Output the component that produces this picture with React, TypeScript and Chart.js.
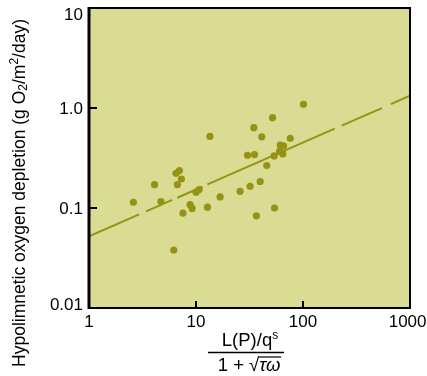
import React, { useEffect, useRef } from "react";
import { Chart, registerables } from "chart.js";

Chart.register(...registerables);

// Observed lakes: areal phosphorus load index vs hypolimnetic oxygen depletion
const loadX = [2.6, 4.1, 4.7, 6.5, 7.0, 6.7, 7.3, 6.2, 7.55, 8.8, 9.2, 10.0, 10.7, 12.8, 13.5, 16.8, 25.8, 30.3, 32, 34.7, 35.2, 36.7, 39.8, 41.2, 45.9, 51.9, 53.8, 54.2, 60.4, 61.3, 65.8, 64.8, 76, 101];
const depletionY = [0.114, 0.171, 0.116, 0.222, 0.237, 0.171, 0.195, 0.038, 0.089, 0.108, 0.099, 0.144, 0.153, 0.102, 0.52, 0.129, 0.147, 0.337, 0.165, 0.635, 0.342, 0.0836, 0.184, 0.515, 0.266, 0.8, 0.332, 0.1, 0.368, 0.425, 0.418, 0.347, 0.497, 1.09];

// Regression line, drawn as broken segments (start / end of each piece)
const fitStartX = [1, 3.42, 6.68, 12.8, 230, 662];
const fitEndX = [2.94, 6.0, 11.5, 198, 546, 1000];
const fitStartY = [0.052, 0.0926, 0.1267, 0.172, 0.666, 1.093];
const fitEndY = [0.0863, 0.1205, 0.163, 0.621, 0.998, 1.33];

const xTicks = [1, 10, 100, 1000];
const xTickLabels = ["1", "10", "100", "1000"];
const yTicks = [0.01, 0.1, 1, 10];
const yTickLabels = ["0.01", "0.1", "1.0", "10"];

const OLIVE = "#969214";
const BG = "#dadc94";
const FONT = "'Liberation Sans', Arial, Helvetica, sans-serif";
const TICK_FONT = `17px ${FONT}`;

type Run = { text: string; font: string; dy?: number };

function drawRuns(ctx: CanvasRenderingContext2D, runs: Run[], cx: number, cy: number) {
  let total = 0;
  const widths = runs.map((r) => {
    ctx.font = r.font;
    const w = ctx.measureText(r.text).width;
    total += w;
    return w;
  });
  let x = cx - total / 2;
  const positions: number[] = [];
  runs.forEach((r, i) => {
    ctx.font = r.font;
    ctx.fillText(r.text, x, cy + (r.dy || 0));
    positions.push(x);
    x += widths[i];
  });
  return { positions, widths, total };
}

const decorPlugin = {
  id: "decor",
  beforeDraw(chart: any) {
    const { ctx, chartArea } = chart;
    ctx.save();
    ctx.fillStyle = BG;
    ctx.fillRect(chartArea.left, chartArea.top, chartArea.right - chartArea.left, chartArea.bottom - chartArea.top);
    ctx.restore();
  },
  afterDraw(chart: any) {
    const { ctx, chartArea, scales, width } = chart;
    const { left, right, top, bottom } = chartArea;
    ctx.save();
    ctx.strokeStyle = "#000";
    // frame
    ctx.lineWidth = 2;
    ctx.strokeRect(left, top, right - left, bottom - top);
    ctx.lineWidth = 3;
    ctx.beginPath();
    ctx.moveTo(left, top - 1);
    ctx.lineTo(left, bottom + 1);
    ctx.stroke();
    // inward tick marks
    ctx.lineWidth = 2;
    ctx.beginPath();
    [10, 100].forEach((v) => {
      const px = scales.x.getPixelForValue(v);
      ctx.moveTo(px, bottom);
      ctx.lineTo(px, bottom - 7);
    });
    [0.1, 1].forEach((v) => {
      const py = scales.y.getPixelForValue(v);
      ctx.moveTo(left, py);
      ctx.lineTo(left + 8, py);
    });
    ctx.stroke();

    ctx.fillStyle = "#000";
    ctx.textBaseline = "middle";

    // tick labels (positioned from the scales)
    ctx.font = TICK_FONT;
    ctx.textAlign = "right";
    yTicks.forEach((v, i) => {
      let py = scales.y.getPixelForValue(v);
      py = Math.min(Math.max(py, top + 6), bottom - 4);
      ctx.fillText(yTickLabels[i], left - 6, py + 1);
    });
    ctx.textAlign = "center";
    xTicks.forEach((v, i) => {
      let px = scales.x.getPixelForValue(v);
      const w = ctx.measureText(xTickLabels[i]).width;
      px = Math.min(px, width - w / 2 - 0.5);
      ctx.fillText(xTickLabels[i], px, bottom + 14);
    });

    ctx.textAlign = "left";
    // y-axis title (rotated)
    ctx.save();
    ctx.translate(20, 193);
    ctx.rotate(-Math.PI / 2);
    const big = `17.5px ${FONT}`;
    const small = `12px ${FONT}`;
    drawRuns(ctx, [
      { text: "Hypolimnetic oxygen depletion (g O", font: big },
      { text: "2", font: small, dy: 4 },
      { text: "/m", font: big },
      { text: "2", font: small, dy: -5 },
      { text: "/day)", font: big },
    ], 0, 0);
    ctx.restore();

    // x-axis title as a fraction
    const xf = `18.5px ${FONT}`;
    const xs = `12px ${FONT}`;
    const cx = 247;
    drawRuns(ctx, [
      { text: "L(P)/q", font: xf },
      { text: "s", font: xs, dy: -5 },
    ], cx + 3, 341);
    ctx.lineWidth = 1.5;
    ctx.beginPath();
    ctx.moveTo(208, 352.5);
    ctx.lineTo(284, 352.5);
    ctx.stroke();
    const den = drawRuns(ctx, [
      { text: "1 + ", font: xf },
      { text: "\u221A", font: xf },
      { text: "\u03C4\u03C9", font: `italic 18.5px ${FONT}` },
    ], cx + 2, 366);
    // overline of the square root
    ctx.lineWidth = 1.2;
    ctx.beginPath();
    ctx.moveTo(den.positions[2] - 1, 357);
    ctx.lineTo(den.positions[2] + den.widths[2] + 1, 357);
    ctx.stroke();
    ctx.restore();
  },
};

export default function App() {
  const ref = useRef<HTMLCanvasElement | null>(null);
  useEffect(() => {
    if (!ref.current) return;
    const pointData = loadX.map((x, i) => ({ x, y: depletionY[i] }));
    const lineSets = fitStartX.map((sx, i) => ({
      type: "line" as const,
      data: [
        { x: sx, y: fitStartY[i] },
        { x: fitEndX[i], y: fitEndY[i] },
      ],
      borderColor: OLIVE,
      borderWidth: 2,
      pointRadius: 0,
      fill: false,
      tension: 0,
    }));
    const chart = new Chart(ref.current, {
      type: "scatter",
      data: {
        datasets: [
          ...lineSets,
          {
            type: "scatter",
            data: pointData,
            backgroundColor: OLIVE,
            borderWidth: 0,
            pointRadius: 3.6,
          },
        ] as any,
      },
      options: {
        animation: false,
        responsive: true,
        maintainAspectRatio: false,
        layout: { padding: { left: 0, right: 17, top: 8, bottom: 0 } },
        plugins: { legend: { display: false }, tooltip: { enabled: false }, title: { display: false } },
        scales: {
          x: {
            type: "logarithmic",
            min: 1,
            max: 1000,
            grid: { display: false, drawTicks: false },
            border: { display: false },
            afterBuildTicks: (scale: any) => {
              scale.ticks = xTicks.map((v) => ({ value: v }));
            },
            afterFit: (scale: any) => {
              scale.height = 68;
              scale.paddingLeft = 0;
              scale.paddingRight = 0;
            },
            ticks: { display: false },
          },
          y: {
            type: "logarithmic",
            min: 0.01,
            max: 10,
            grid: { display: false, drawTicks: false },
            border: { display: false },
            afterBuildTicks: (scale: any) => {
              scale.ticks = yTicks.map((v) => ({ value: v }));
            },
            afterFit: (scale: any) => {
              scale.width = 89;
              scale.paddingTop = 0;
              scale.paddingBottom = 0;
            },
            ticks: { display: false },
          },
        },
      },
      plugins: [decorPlugin],
    } as any);
    return () => chart.destroy();
  }, []);
  return (
    <div style={{ position: "absolute", left: 0, top: 0, width: 427, height: 376, background: "#fff" }}>
      <canvas ref={ref} />
    </div>
  );
}
